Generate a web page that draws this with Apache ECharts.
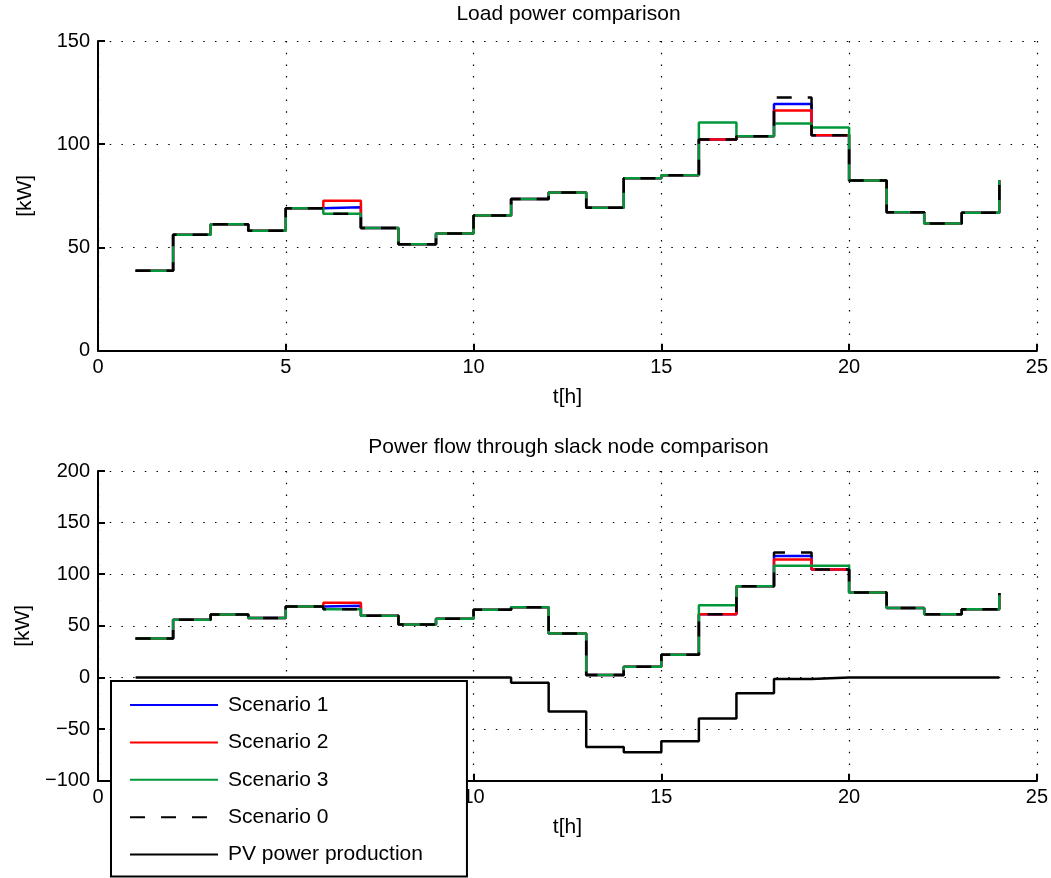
<!DOCTYPE html>
<html>
<head>
<meta charset="utf-8">
<script src="https://cdn.jsdelivr.net/npm/echarts@6/dist/echarts.min.js"></script>
<style>
  html, body { margin: 0; padding: 0; background: #fff; }
  #chart { width: 1051px; height: 878px; }
</style>
</head>
<body>
<div id="chart"></div>
<script>
// hours (stairs start points)
const hours = [1, 2, 3, 4, 5, 6, 7, 8, 9, 10, 11, 12, 13, 14, 15, 16, 17, 18, 19, 20, 21, 22, 23, 24];

// Load power [kW]
const loadS0 = [38.7, 56.1, 61.3, 58.1, 69.0, 66.3, 59.4, 51.6, 56.8, 65.5, 73.5, 76.6, 69.2, 83.5, 85.0, 102.3, 103.9, 122.6, 104.4, 82.4, 67.1, 61.6, 66.8, 82.6];
const loadS1 = [38.7, 56.1, 61.3, 58.1, 69.0, 69.5, 59.4, 51.6, 56.8, 65.5, 73.5, 76.6, 69.2, 83.5, 85.0, 102.3, 103.9, 119.5, 104.4, 82.4, 67.1, 61.6, 66.8, 82.6];
const loadS2 = [38.7, 56.1, 61.3, 58.1, 69.0, 72.6, 59.4, 51.6, 56.8, 65.5, 73.5, 76.6, 69.2, 83.5, 85.0, 102.3, 103.9, 116.3, 104.4, 82.4, 67.1, 61.6, 66.8, 82.6];
const loadS3 = [38.7, 56.1, 61.3, 58.1, 69.0, 66.3, 59.4, 51.6, 56.8, 65.5, 73.5, 76.6, 69.2, 83.5, 85.0, 110.5, 103.9, 110.0, 108.1, 82.4, 67.1, 61.6, 66.8, 82.6];

// Power flow through slack node [kW]
const slackS0 = [37.7, 55.8, 61.0, 57.7, 68.7, 66.1, 59.7, 51.3, 56.8, 65.5, 68.1, 42.6, 2.3, 10.3, 21.9, 61.3, 88.4, 121.0, 104.5, 82.3, 67.4, 61.3, 66.1, 81.9];
const slackS1 = [37.7, 55.8, 61.0, 57.7, 68.7, 69.4, 59.7, 51.3, 56.8, 65.5, 68.1, 42.6, 2.3, 10.3, 21.9, 61.3, 88.4, 117.7, 104.5, 82.3, 67.4, 61.3, 66.1, 81.9];
const slackS2 = [37.7, 55.8, 61.0, 57.7, 68.7, 72.3, 59.7, 51.3, 56.8, 65.5, 68.1, 42.6, 2.3, 10.3, 21.9, 61.3, 88.4, 114.2, 104.5, 82.3, 67.4, 61.3, 66.1, 81.9];
const slackS3 = [37.7, 55.8, 61.0, 57.7, 68.7, 66.1, 59.7, 51.3, 56.8, 65.5, 68.1, 42.6, 2.3, 10.3, 21.9, 70.0, 88.4, 108.1, 108.1, 82.3, 67.4, 61.3, 66.1, 81.9];
const pvPower = [0, 0, 0, 0, 0, 0, 0, 0, 0, 0, -5.1, -33.0, -67.3, -72.4, -61.9, -39.7, -15.4, -1.6, 0, 0, 0, 0, 0, 0];

// tick labels
const xTicks = [0, 5, 10, 15, 20, 25];
const yTicksTop = [0, 50, 100, 150];
const yTicksBottom = [-100, -50, 0, 50, 100, 150, 200];

const FONT = 'Liberation Sans, Arial, Helvetica, sans-serif';
const GREEN = '#00983a';

const chart = echarts.init(document.getElementById('chart'), null, { renderer: 'canvas' });

function pairs(vals) {
    return hours.map((h, i) => [h, vals[i]]);
}

function xAxisOpt(idx) {
    return {
        type: 'value',
        gridIndex: idx,
        min: xTicks[0],
        max: xTicks[xTicks.length - 1],
        interval: xTicks[1] - xTicks[0],
        name: 't[h]',
        nameLocation: 'middle',
        nameGap: 36,
        nameTextStyle: { color: '#000', fontSize: 21, fontFamily: FONT },
        axisLine: { onZero: false, lineStyle: { color: '#000', width: 2 } },
        axisTick: { inside: true, length: 7, lineStyle: { color: '#000', width: 2 } },
        axisLabel: { color: '#000', fontSize: 20, fontFamily: FONT, margin: 7 },
        splitLine: { show: true, lineStyle: { color: '#000', width: 1.2, type: [1.5, 10.2] } }
    };
}

function yAxisOpt(idx, ticks) {
    return {
        type: 'value',
        gridIndex: idx,
        min: ticks[0],
        max: ticks[ticks.length - 1],
        interval: ticks[1] - ticks[0],
        name: '[kW]',
        nameLocation: 'middle',
        nameGap: 62,
        nameTextStyle: { color: '#000', fontSize: 21, fontFamily: FONT },
        axisLine: { show: true, onZero: false, lineStyle: { color: '#000', width: 2 } },
        axisTick: { show: true, inside: true, length: 7, lineStyle: { color: '#000', width: 2 } },
        axisLabel: {
            color: '#000', fontSize: 20, fontFamily: FONT, margin: 8,
            formatter: v => String(v).replace('-', '\u2212')
        },
        splitLine: { show: true, lineStyle: { color: '#000', width: 1.2, type: [1.5, 10.2] } }
    };
}

function stairs(name, vals, idx, color, dashed) {
    return {
        name: name,
        type: 'line',
        xAxisIndex: idx,
        yAxisIndex: idx,
        step: 'end',
        data: pairs(vals),
        symbol: 'none',
        showSymbol: false,
        lineStyle: { color: color, width: 2.5, type: dashed ? [15, 16] : 'solid', cap: 'butt' },
        itemStyle: { color: color },
        emphasis: { disabled: true }
    };
}

chart.setOption({
    backgroundColor: '#ffffff',
    animation: false,
    title: [{
        text: 'Load power comparison',
        left: 568.5,
        top: 4,
        textAlign: 'center',
        padding: 0,
        textStyle: { color: '#000', fontSize: 21, fontWeight: 'normal', fontFamily: FONT }
    }, {
        text: 'Power flow through slack node comparison',
        left: 568.5,
        top: 437,
        textAlign: 'center',
        padding: 0,
        textStyle: { color: '#000', fontSize: 21, fontWeight: 'normal', fontFamily: FONT }
    }],
    grid: [
        { left: 98, right: 12, top: 41, height: 309.7 },
        { left: 98, right: 12, top: 471, height: 309.7 }
    ],
    xAxis: [xAxisOpt(0), xAxisOpt(1)],
    yAxis: [yAxisOpt(0, yTicksTop), yAxisOpt(1, yTicksBottom)],
    legend: {
        orient: 'vertical',
        left: 111,
        top: 681,
        height: 180,
        data: ['Scenario 1', 'Scenario 2', 'Scenario 3', 'Scenario 0', 'PV power production'],
        selectedMode: false,
        backgroundColor: '#fff',
        borderColor: '#000',
        borderWidth: 2,
        borderRadius: 0,
        padding: [13, 44, 11, 18],
        itemWidth: 88,
        itemHeight: 22,
        itemGap: 15.4,
        itemStyle: { color: 'rgba(0,0,0,0)', borderColor: 'rgba(0,0,0,0)', borderWidth: 0, opacity: 0 },
        textStyle: { color: '#000', fontSize: 21, fontFamily: FONT, lineHeight: 22, padding: [0, 0, 0, 5] }
    },
    series: [
        stairs('Scenario 1', loadS1, 0, '#0000ff', false),
        stairs('Scenario 2', loadS2, 0, '#ff0000', false),
        stairs('Scenario 3', loadS3, 0, GREEN, false),
        stairs('Scenario 0', loadS0, 0, '#000000', true),
        stairs('Scenario 1', slackS1, 1, '#0000ff', false),
        stairs('Scenario 2', slackS2, 1, '#ff0000', false),
        stairs('Scenario 3', slackS3, 1, GREEN, false),
        stairs('Scenario 0', slackS0, 1, '#000000', true),
        stairs('PV power production', pvPower, 1, '#000000', false)
    ]
});
</script>
</body>
</html>
